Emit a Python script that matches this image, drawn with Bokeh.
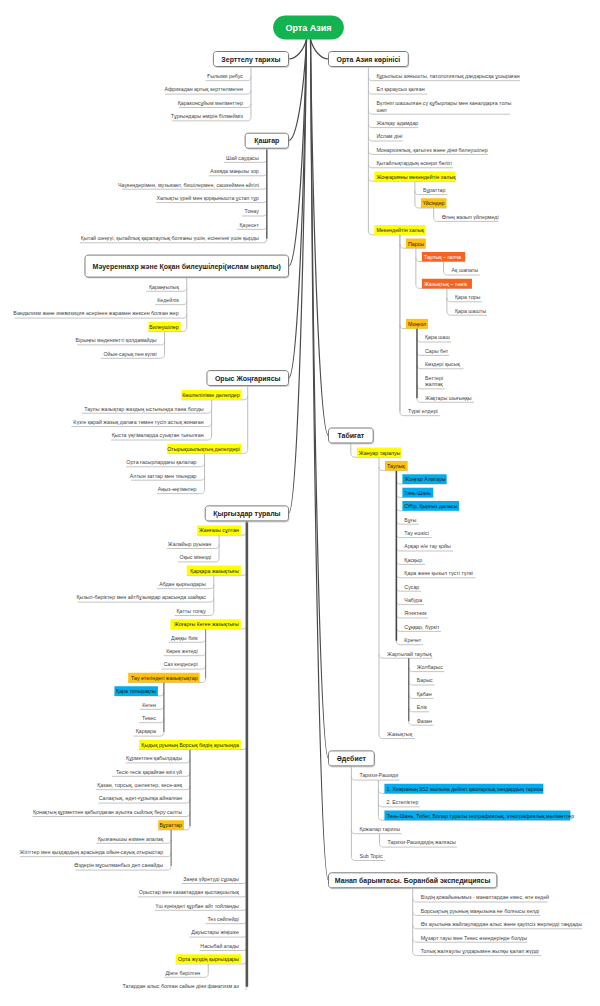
import math
from bokeh.plotting import figure
from bokeh.models import Range1d
from bokeh.embed import file_html
from bokeh.resources import INLINE
from bokeh.core.properties import value

# ---------------- DATA ----------------
ROOT_TITLE = "Орта Азия"

LEFT_TITLES = ["Зерттелу тарихы", "Қашғар",
               "Мәуереннахр және Қоқан билеушілері(ислам ықпалы)",
               "Орыс Жоңғариясы", "Қырғыздар туралы"]
RIGHT_TITLES = ["Орта Азия көрінісі", "Табиғат", "Әдебиет",
                "Манап барымтасы. Боранбай экспедициясы"]

# (depth, label, tag)   tag: "" plain, y yellow, o orange, r red, b blue
zerttelu = [
    (1, "Ғылыми ребус", ""),
    (1, "Африкадан артық зерттелмеген", ""),
    (1, "Қараконсұйым мәліметтер", ""),
    (1, "Тұрғындары өмірін білмейміз", ""),
]
kashgar = [
    (1, "Шай саудасы", ""),
    (1, "Азияда маңызы зор", ""),
    (1, "Чаукендерімен, музыкант, бишілермен, сашкеймен әйгілі", ""),
    (1, "Халықты үрей мен қорқынышта ұстап тұр", ""),
    (1, "Тонау", ""),
    (1, "Қауесет", ""),
    (1, "Қытай шеңгүі, қытайлық қарапаулық болғаны үшін, есінегені үшін қырды", ""),
]
mauerennahr = [
    (1, "Қараңғылық", ""),
    (1, "Кедейлік", ""),
    (1, "Вандализм және инквизиция әсерінен жарамен жексен болған жер", ""),
    (1, "Билеушілер", "y"),
    (2, "Бірыңғы мәдениетті қолдамайды", ""),
    (2, "Ойын-сауық пен күлкі", ""),
]
orys = [
    (1, "Көшпелілікке дәлелдер", "y"),
    (2, "Таулы жазықтар жаздың ыстығында пана болды", ""),
    (2, "Күзге қарай жазық далаға төмен түсіп астық жинаған", ""),
    (2, "Қыста үңгімаларда суықтан тығылған", ""),
    (1, "Отырықшылықтың дәлелдері", "y"),
    (2, "Орта ғасырлардағы қалалар", ""),
    (2, "Алтын заттар мен тиындар", ""),
    (2, "Аңыз-әңгімелер", ""),
]
qyrgyz = [
    (1, "Жанғазы сұлтан", "y"),
    (2, "Жалайыр руынан", ""),
    (2, "Оқыс мінезді", ""),
    (1, "Қарқара жазықтығы", "y"),
    (2, "Абдан қырғыздары", ""),
    (2, "Қызыл-бөріктер мен айтбұзымдар арасында шайқас", ""),
    (2, "Қатты толқу", ""),
    (1, "Жоғарғы Кеген жазықтығы", "y"),
    (2, "Даңқы биік", ""),
    (2, "Көрек жетеді", ""),
    (2, "Саз кездесері", ""),
    (2, "Тау етегіндегі жазықтықтар", "o"),
    (3, "Қара топырақты", "b"),
    (3, "Кеген", ""),
    (3, "Текес", ""),
    (3, "Қарқара", ""),
    (1, "Қыдық руының Борсық бидің ауылында", "y"),
    (2, "Құрметпен қабылдады", ""),
    (2, "Тесік-тесік қарайған киіз үй", ""),
    (2, "Қазан, торсық, шелектер, кесе-аяқ", ""),
    (2, "Салақтық, әдет-ғұрыпқа айналған", ""),
    (2, "Қонақтың құрметпен қабылдаған ауылға сыйлық беру салты", ""),
    (2, "Бұраттар", "o"),
    (3, "Қызғанышы өзімен апалақ", ""),
    (3, "Жігіттер мен қыздардың арасында ойын-сауық отырыстар", ""),
    (3, "Өздерін мұсылманбыз деп санайды", ""),
    (1, "Заңға үйретуді сұрады", ""),
    (1, "Орыстар мен казактардан қыспақшылық", ""),
    (1, "Үш күніндегі құрбан айт тойланды", ""),
    (1, "Тез сөйлейді", ""),
    (1, "Дауыстары жіңішке", ""),
    (1, "Насыбай атады", ""),
    (1, "Орта жүздің қырғыздары", "y"),
    (2, "Дінге берілген", ""),
    (1, "Татардан алыс болған сайын діни фанатизм аз", ""),
]
korinisi = [
    (1, "Құрылысы аянышты, патологиялық дағдарысқа ұшыраған", ""),
    (1, "Ел қараусыз қалған", ""),
    (1, "Бүлініп шашылған су құбырлары мен каналдарға толы\nшөл", ""),
    (1, "Жалқау адамдар", ""),
    (1, "Ислам діні", ""),
    (1, "Монархиялық, қатыгез және діни билеушілер", ""),
    (1, "Қытайлықтардың әскери бөлігі", ""),
    (1, "Жоңғарияны мекендейтін халық", "y"),
    (2, "Бұраттар", ""),
    (2, "Үйсіндер", "o"),
    (3, "Өлең жазып үйлермеді", ""),
    (1, "Мекендейтін халық", "y"),
    (2, "Парсы", "o"),
    (3, "Таулық  – галча", "r"),
    (4, "Ақ шапаты", ""),
    (3, "Жазықтық  – тәжік", "r"),
    (4, "Қара торы", ""),
    (4, "Қара шашты", ""),
    (2, "Моңғол", "o"),
    (3, "Қара шаш", ""),
    (3, "Сары бет", ""),
    (3, "Көздері қысық", ""),
    (3, "Беттері\nжалпақ", ""),
    (3, "Жақтары шығыңқы", ""),
    (2, "Түркі елдері", ""),
]
tabigat = [
    (1, "Жануар таралуы", "y"),
    (2, "Таулық", "o"),
    (3, "Жоңғар Алатауы", "b"),
    (3, "Тянь-Шань", "b"),
    (3, "Сібір, Қырғыз даласы", "b"),
    (3, "Бұғы", ""),
    (3, "Тау ешкісі", ""),
    (3, "Арқар н/е тау қойы", ""),
    (3, "Қасқыр", ""),
    (3, "Қара және қызыл түсті түлкі", ""),
    (3, "Сусар", ""),
    (3, "Чабура", ""),
    (3, "Ягнятник", ""),
    (3, "Сұңқар, бүркіт", ""),
    (3, "Кречет", ""),
    (2, "Жартылай таулық", ""),
    (3, "Жолбарыс", ""),
    (3, "Барыс", ""),
    (3, "Қабан", ""),
    (3, "Елік", ""),
    (3, "Фазан", ""),
    (2, "Жазықтық", ""),
]
adebiet = [
    (1, "Тарихи-Рашиди", ""),
    (2, "1. Хижраның 952 жылына дейінгі қашғарлық хандардың тарихы", "b"),
    (2, "2. Естеліктер", ""),
    (2, "Тянь-Шань, Тибет, Болар туралы географиялық, этнографиялық мәліметтер", "b"),
    (1, "Қожалар тарихы", ""),
    (2, "Тарихи-Рашидидің жалғасы", ""),
    (1, "Sub Topic", ""),
]
manap = [
    (1, "Біздің қожайынымыз - манаптардан емес, өте кедей", ""),
    (1, "Борсықтың руының маңызына не болғысы келді", ""),
    (1, "Өз ауылына жайлаулардан алыс және қауіпсіз жерлерді таңдады", ""),
    (1, "Мұзарт тауы мен Текес өзендерінде болды", ""),
    (1, "Толық жалғаулы ұлдарымен жылқы қалап жүрді", ""),
]
LEFT_BRANCHES = [zerttelu, kashgar, mauerennahr, orys, qyrgyz]
RIGHT_BRANCHES = [korinisi, tabigat, adebiet, manap]

# ---------------- STYLE ----------------
FONT = "Liberation Sans"
LEAF_FS, TOPIC_FS, ROOT_FS = 5.3, 7.0, 9.0
STEP, LINE_H = 13.4, 6.7
TOPIC_PAD, NODE_PAD, GAP, RAD = 9.0, 2.0, 6.0, 4.0
ROOT_CX, ROOT_CY, ROOT_H = 308.0, 27.0, 24.0
LEFT_EDGE, RIGHT_EDGE, FIRST_TOPIC_Y = 288.0, 328.0, 58.5
TALL = {"Мәуереннахр және Қоқан билеушілері(ислам ықпалы)"}
FILL = {"y": "#FFFF00", "o": "#FFC20E", "r": "#F26522", "b": "#00AEEF"}
TXT = {"": "#444444", "y": "#222222", "o": "#222222", "r": "#FFFFFF", "b": "#1a1a1a"}
DARK = {"Қашғар": ("#6a6a6a", 1.6), "Қырғыздар туралы": ("#555555", 2.6),
        "Таулық": ("#444444", 1.6), "Моңғол": ("#444444", 1.4),
        "Жартылай таулық": ("#555555", 1.2), "Тау етегіндегі жазықтықтар": ("#666666", 1.2),
        "Қыдық руының Борсық бидің ауылында": ("#666666", 1.2), "Бұраттар": ("#777777", 1.2),
        "Жоғарғы Кеген жазықтығы": ("#888888", 1.1), "Мекендейтін халық": ("#999999", 1.0)}
LIGHT = ("#b4b4b4", 0.9)


def em(ch):
    if ch == " ":
        return 0.278
    if ch in "іІiIlj.,:;!|'ı":
        return 0.222
    if ch in "()-/":
        return 0.333
    if ch in "–":
        return 0.556
    if ch in "гтғ":
        return 0.39
    if ch in "шщжыюф":
        return 0.74
    if ch in "ШЩЖЫЮМ":
        return 0.9
    if ch.isdigit():
        return 0.556
    if ch.isupper():
        return 0.667
    return 0.53


def tw(s, fs, bold=False):
    w = max(sum(em(c) for c in line) for line in s.split("\n")) * fs
    return w * 1.07 if bold else w


def rrect(x0, y0, x1, y1, r):
    xs, ys = [], []
    for (cx, cy, a0) in [(x1 - r, y0 + r, -90), (x1 - r, y1 - r, 0), (x0 + r, y1 - r, 90), (x0 + r, y0 + r, 180)]:
        for k in range(7):
            a = math.radians(a0 + 15 * k)
            xs.append(cx + r * math.cos(a))
            ys.append(cy + r * math.sin(a))
    return xs, ys


def quad_pts(a, c, b, n=6):
    pts = []
    for i in range(n + 1):
        t = i / n
        pts.append(((1 - t) ** 2 * a[0] + 2 * (1 - t) * t * c[0] + t * t * b[0],
                    (1 - t) ** 2 * a[1] + 2 * (1 - t) * t * c[1] + t * t * b[1]))
    return pts


topics, nodes, parents = [], [], []


def layout(titles, branches, side):
    last = None
    for title, kids in zip(titles, branches):
        h = 22.0 if title in TALL else 15.0
        ty = FIRST_TOPIC_Y if last is None else last + 24.5 + (h - 15) / 2
        w = tw(title, TOPIC_FS, True) + 2 * TOPIC_PAD
        if side == "R":
            x0, x1 = RIGHT_EDGE, RIGHT_EDGE + w
        else:
            x0, x1 = LEFT_EDGE - w, LEFT_EDGE
        top = dict(x0=x0, x1=x1, cx=(x0 + x1) / 2, y=ty, h=h, bottom=ty + h / 2,
                   label=title, kids=[], side=side)
        topics.append(top)
        stack = {0: top}
        y, prev_extra = None, 0.0
        for d, label, tag in kids:
            n = label.count("\n") + 1
            extra = (n - 1) * LINE_H / 2
            if y is None:
                y = ty + h / 2 + 9.5 + extra
            else:
                y += STEP + prev_extra + extra
            prev_extra = extra
            par = stack[d - 1]
            conn = par["cx"]
            w = tw(label, LEAF_FS) + 2 * NODE_PAD
            if side == "R":
                nx0, nx1 = conn + GAP, conn + GAP + w
            else:
                nx0, nx1 = conn - GAP - w, conn - GAP
            node = dict(x0=nx0, x1=nx1, cx=(nx0 + nx1) / 2, y=y, top=y - 5 - extra,
                        bottom=y + 4.7 + extra, label=label, tag=tag, kids=[], side=side, n=n)
            if not par["kids"]:
                parents.append(par)
            par["kids"].append(node)
            stack[d] = node
            nodes.append(node)
        last = y + prev_extra


layout(LEFT_TITLES, LEFT_BRANCHES, "L")
layout(RIGHT_TITLES, RIGHT_BRANCHES, "R")

p = figure(width=584, height=990, x_range=Range1d(0, 584), y_range=Range1d(990, 0),
           output_backend="svg", toolbar_location=None, min_border=0,
           x_axis_type=None, y_axis_type=None)
p.grid.visible = False
p.outline_line_color = None
p.background_fill_color = "#ffffff"

# root -> topic curves
for t in topics:
    if t["side"] == "L":
        sx, ex, c1x, c0x = ROOT_CX - 2, t["x1"], t["x1"] + 8, ROOT_CX - 5
    else:
        sx, ex, c1x, c0x = ROOT_CX + 2, t["x0"], t["x0"] - 8, ROOT_CX + 5
    sy = ROOT_CY + ROOT_H / 2
    p.bezier(x0=[sx], y0=[sy], x1=[ex], y1=[t["y"]], cx0=[c0x], cy0=[sy + (t["y"] - sy) * 0.55],
             cx1=[c1x], cy1=[t["y"]], line_color="#4a4a4a", line_width=1.2)

# connectors
ux, uy, vx, vy, vc, vw = [], [], [], [], [], []
for par in parents:
    kids = par["kids"]
    conn = par["cx"]
    col, wid = DARK.get(par["label"], LIGHT)
    last_u = kids[-1]["bottom"]
    vx.append([conn, conn]); vy.append([par["bottom"], last_u - RAD]); vc.append(col); vw.append(wid)
    for k in kids:
        u = k["bottom"]
        if k["side"] == "R":
            pts = quad_pts((conn, u - RAD), (conn, u), (conn + RAD, u)) + [(k["x1"], u)]
        else:
            pts = quad_pts((conn, u - RAD), (conn, u), (conn - RAD, u)) + [(k["x0"], u)]
        ux.append([q[0] for q in pts]); uy.append([q[1] for q in pts])

p.multi_line(xs=ux, ys=uy, line_color="#bdbdbd", line_width=0.9)
p.multi_line(xs=vx, ys=vy, line_color=vc, line_width=vw)

# highlight boxes
hl = [n for n in nodes if n["tag"]]
p.quad(left=[n["x0"] for n in hl], right=[n["x1"] for n in hl],
       top=[n["top"] for n in hl], bottom=[n["bottom"] for n in hl],
       fill_color=[FILL[n["tag"]] for n in hl], line_color=None)

# leaf texts
for side, align in (("L", "right"), ("R", "left")):
    xs, ys, ts, cs = [], [], [], []
    for n in nodes:
        if n["side"] != side:
            continue
        lines = n["label"].split("\n")
        for i, line in enumerate(lines):
            xs.append(n["x1"] - NODE_PAD if side == "L" else n["x0"] + NODE_PAD)
            ys.append(n["y"] - (len(lines) - 1) * LINE_H / 2 + i * LINE_H)
            ts.append(line)
            cs.append(TXT[n["tag"]])
    p.text(x=xs, y=ys, text=ts, text_color=cs, text_align=align, text_baseline="middle",
           text_font=value(FONT), text_font_size=f"{LEAF_FS}px")

# topic boxes
for t in topics:
    y0, y1 = t["y"] - t["h"] / 2, t["y"] + t["h"] / 2
    sxs, sys_ = rrect(t["x0"] + 1, y0 + 1.5, t["x1"] + 1, y1 + 1.5, 3)
    p.patch(sxs, sys_, fill_color="#c8c8c8", line_color=None, fill_alpha=0.7)
    bxs, bys = rrect(t["x0"], y0, t["x1"], y1, 3)
    p.patch(bxs, bys, fill_color="#ffffff", line_color="#7a7a7a", line_width=1.0)
p.text(x=[(t["x0"] + t["x1"]) / 2 for t in topics], y=[t["y"] for t in topics],
       text=[t["label"] for t in topics], text_align="center", text_baseline="middle",
       text_color="#222222", text_font=value(FONT), text_font_style="bold",
       text_font_size=f"{TOPIC_FS}px")

# root
rw = tw(ROOT_TITLE, ROOT_FS, True) + 26
rxs, rys = rrect(ROOT_CX - rw / 2, ROOT_CY - ROOT_H / 2, ROOT_CX + rw / 2, ROOT_CY + ROOT_H / 2, ROOT_H / 2)
p.patch(rxs, rys, fill_color="#12B350", line_color=None)
p.text(x=[ROOT_CX], y=[ROOT_CY], text=[ROOT_TITLE], text_align="center", text_baseline="middle",
       text_color="#ffffff", text_font=value(FONT), text_font_style="bold",
       text_font_size=f"{ROOT_FS}px")

open("out.html", "w").write(file_html(p, INLINE))
